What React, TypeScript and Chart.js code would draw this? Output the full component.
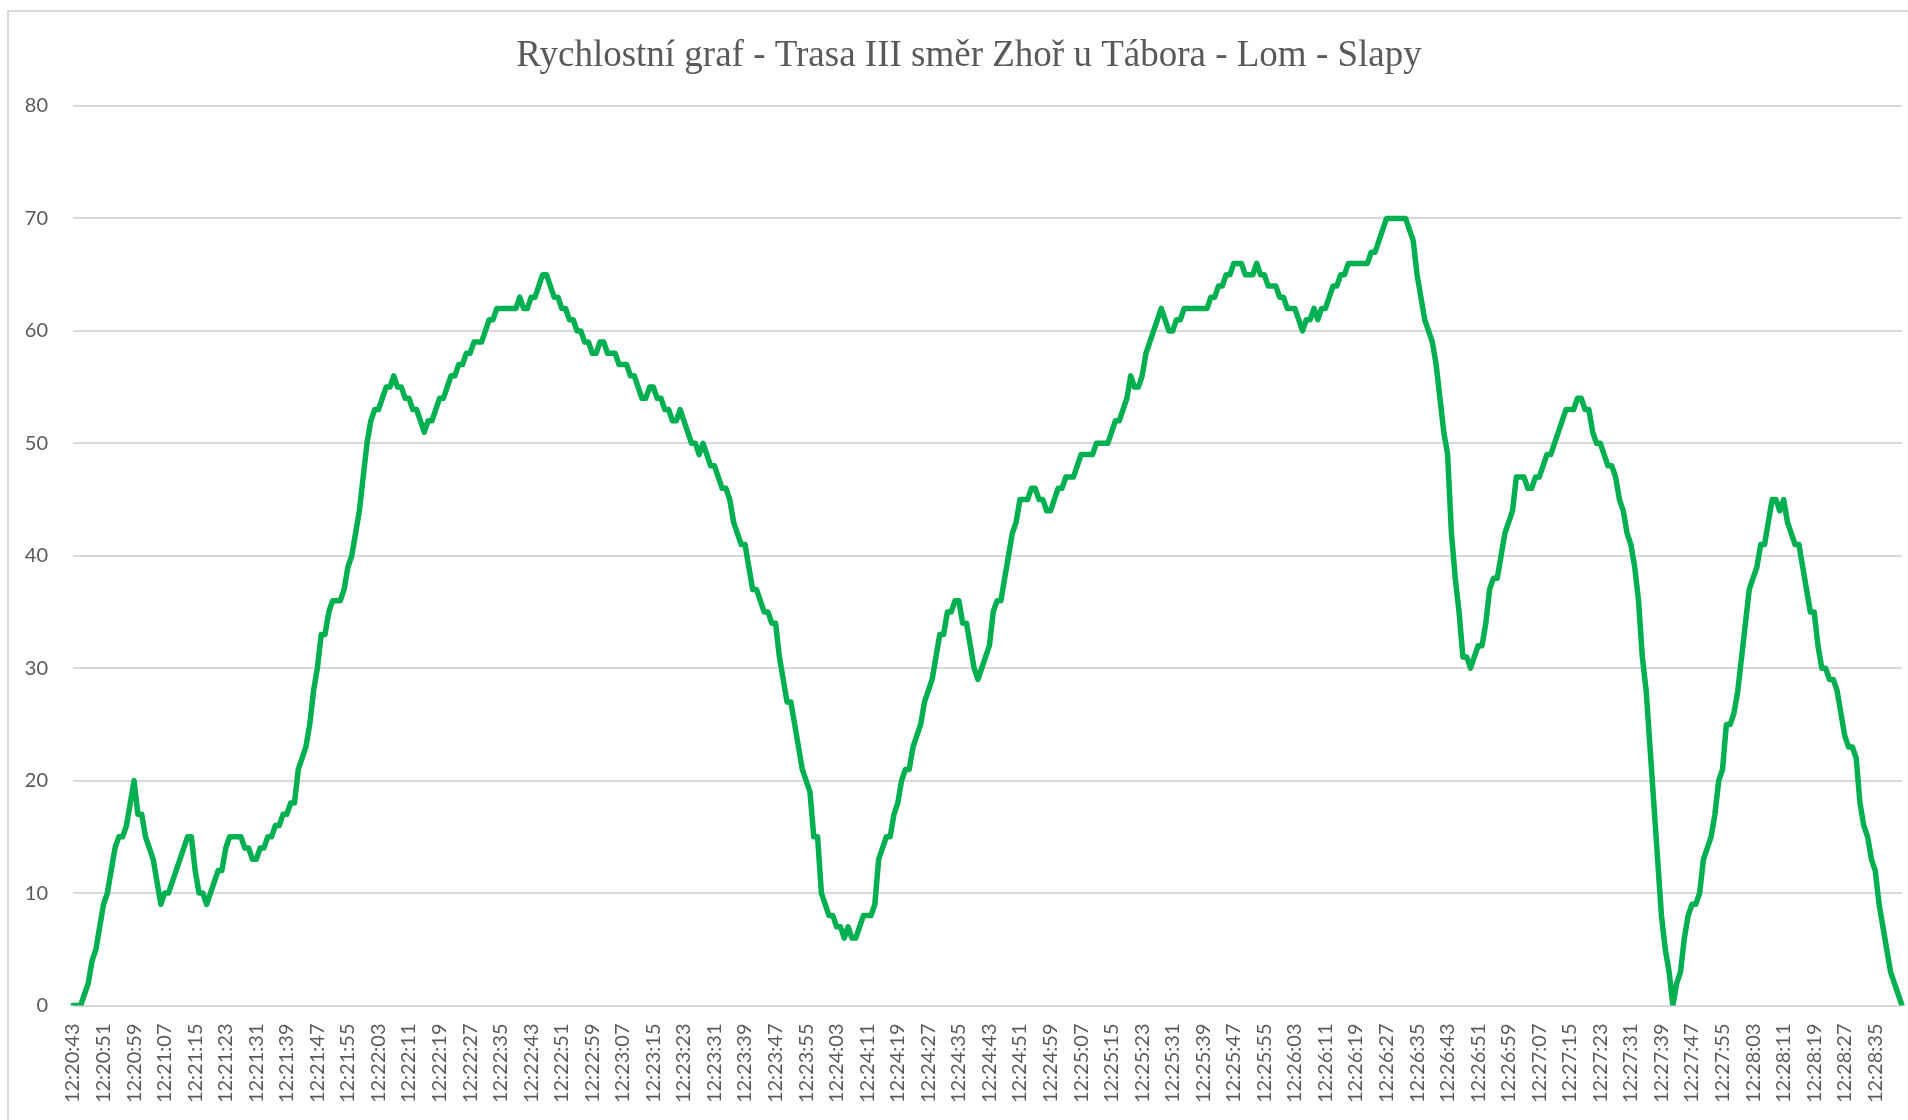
import React, { useEffect, useRef } from 'react';
import { Chart, registerables } from 'chart.js';

Chart.register(...registerables);

const TITLE = 'Rychlostní graf - Trasa III směr Zhoř u Tábora - Lom - Slapy';
const START_TIME = '12:20:43';
const LABEL_EVERY = 8;
const Y_MIN = 0;
const Y_MAX = 80;
const Y_STEP = 10;

// speed (km/h), one value per second starting at 12:20:43
const SPEEDS = [
  0, 0, 0, 1, 2, 4, 5, 7, 9, 10,
  12, 14, 15, 15, 16, 18, 20, 17, 17, 15,
  14, 13, 11, 9, 10, 10, 11, 12, 13, 14,
  15, 15, 12, 10, 10, 9, 10, 11, 12, 12,
  14, 15, 15, 15, 15, 14, 14, 13, 13, 14,
  14, 15, 15, 16, 16, 17, 17, 18, 18, 21,
  22, 23, 25, 28, 30, 33, 33, 35, 36, 36,
  36, 37, 39, 40, 42, 44, 47, 50, 52, 53,
  53, 54, 55, 55, 56, 55, 55, 54, 54, 53,
  53, 52, 51, 52, 52, 53, 54, 54, 55, 56,
  56, 57, 57, 58, 58, 59, 59, 59, 60, 61,
  61, 62, 62, 62, 62, 62, 62, 63, 62, 62,
  63, 63, 64, 65, 65, 64, 63, 63, 62, 62,
  61, 61, 60, 60, 59, 59, 58, 58, 59, 59,
  58, 58, 58, 57, 57, 57, 56, 56, 55, 54,
  54, 55, 55, 54, 54, 53, 53, 52, 52, 53,
  52, 51, 50, 50, 49, 50, 49, 48, 48, 47,
  46, 46, 45, 43, 42, 41, 41, 39, 37, 37,
  36, 35, 35, 34, 34, 31, 29, 27, 27, 25,
  23, 21, 20, 19, 15, 15, 10, 9, 8, 8,
  7, 7, 6, 7, 6, 6, 7, 8, 8, 8,
  9, 13, 14, 15, 15, 17, 18, 20, 21, 21,
  23, 24, 25, 27, 28, 29, 31, 33, 33, 35,
  35, 36, 36, 34, 34, 32, 30, 29, 30, 31,
  32, 35, 36, 36, 38, 40, 42, 43, 45, 45,
  45, 46, 46, 45, 45, 44, 44, 45, 46, 46,
  47, 47, 47, 48, 49, 49, 49, 49, 50, 50,
  50, 50, 51, 52, 52, 53, 54, 56, 55, 55,
  56, 58, 59, 60, 61, 62, 61, 60, 60, 61,
  61, 62, 62, 62, 62, 62, 62, 62, 63, 63,
  64, 64, 65, 65, 66, 66, 66, 65, 65, 65,
  66, 65, 65, 64, 64, 64, 63, 63, 62, 62,
  62, 61, 60, 61, 61, 62, 61, 62, 62, 63,
  64, 64, 65, 65, 66, 66, 66, 66, 66, 66,
  67, 67, 68, 69, 70, 70, 70, 70, 70, 70,
  69, 68, 65, 63, 61, 60, 59, 57, 54, 51,
  49, 42, 38, 35, 31, 31, 30, 31, 32, 32,
  34, 37, 38, 38, 40, 42, 43, 44, 47, 47,
  47, 46, 46, 47, 47, 48, 49, 49, 50, 51,
  52, 53, 53, 53, 54, 54, 53, 53, 51, 50,
  50, 49, 48, 48, 47, 45, 44, 42, 41, 39,
  36, 31, 28, 23, 18, 13, 8, 5, 3, 0,
  2, 3, 6, 8, 9, 9, 10, 13, 14, 15,
  17, 20, 21, 25, 25, 26, 28, 31, 34, 37,
  38, 39, 41, 41, 43, 45, 45, 44, 45, 43,
  42, 41, 41, 39, 37, 35, 35, 32, 30, 30,
  29, 29, 28, 26, 24, 23, 23, 22, 18, 16,
  15, 13, 12, 9, 7, 5, 3, 2, 1, 0,
];

function buildTimeLabels(start: string, n: number): string[] {
  const [h, m, s] = start.split(':').map(Number);
  const base = h * 3600 + m * 60 + s;
  const out: string[] = [];
  for (let k = 0; k < n; k++) {
    const t = base + k;
    const hh = Math.floor(t / 3600);
    const mm = Math.floor((t % 3600) / 60);
    const ss = t % 60;
    out.push(`${hh}:${String(mm).padStart(2, '0')}:${String(ss).padStart(2, '0')}`);
  }
  return out;
}

const TIME_LABELS = buildTimeLabels(START_TIME, SPEEDS.length);

const W = 1908;
const H = 1120;
const TEXT_COLOR = '#595959';
const GRID_COLOR = '#d9d9d9';
const LINE_COLOR = '#00b050';
const SANS = "Lato, 'Open Sans', 'Liberation Sans', sans-serif";
const SERIF = "'Liberation Serif', 'Times New Roman', serif";
const TITLE_X = 969;
const TITLE_Y = 56.5;

const titlePlugin = {
  id: 'offsetTitle',
  afterDraw(chart: any) {
    const ctx = chart.ctx;
    ctx.save();
    ctx.font = `normal 37px ${SERIF}`;
    ctx.fillStyle = TEXT_COLOR;
    ctx.textAlign = 'center';
    ctx.textBaseline = 'middle';
    ctx.fillText(TITLE, TITLE_X, TITLE_Y);
    ctx.restore();
  },
};

export default function App() {
  const ref = useRef<HTMLCanvasElement | null>(null);

  useEffect(() => {
    if (!ref.current) return;
    const chart = new Chart(ref.current, {
      type: 'line',
      data: {
        labels: TIME_LABELS,
        datasets: [
          {
            data: SPEEDS,
            borderColor: LINE_COLOR,
            backgroundColor: LINE_COLOR,
            borderWidth: 5.5,
            pointRadius: 0,
            pointHoverRadius: 0,
            tension: 0,
            fill: false,
            borderJoinStyle: 'round',
            borderCapStyle: 'round',
          },
        ],
      },
      plugins: [titlePlugin],
      options: {
        responsive: false,
        animation: false,
        events: [],
        layout: { padding: { left: 0, right: 6, top: 106, bottom: 0 } },
        plugins: {
          legend: { display: false },
          tooltip: { enabled: false },
          title: { display: false },
        },
        scales: {
          x: {
            type: 'category',
            offset: false,
            grid: { display: false, drawTicks: false },
            border: { display: false },
            ticks: {
              autoSkip: false,
              minRotation: 90,
              maxRotation: 90,
              padding: 18,
              color: TEXT_COLOR,
              font: { family: SANS, size: 20 },
              callback: (_v: any, i: number) => (i % LABEL_EVERY === 0 ? TIME_LABELS[i] : ''),
            },
            afterFit: (s: any) => {
              s.height = 114.5;
              s.paddingLeft = 0;
              s.paddingRight = 0;
            },
          },
          y: {
            min: Y_MIN,
            max: Y_MAX,
            grid: { color: GRID_COLOR, lineWidth: 2, drawTicks: false },
            border: { display: false },
            ticks: {
              stepSize: Y_STEP,
              padding: 25,
              color: TEXT_COLOR,
              font: { family: SANS, size: 20 },
            },
            afterFit: (s: any) => {
              s.width = 73;
            },
          },
        },
      },
    });
    return () => chart.destroy();
  }, []);

  return (
    <div style={{ position: 'absolute', left: 0, top: 0, width: W, height: H, background: '#fff', overflow: 'hidden' }}>
      <div
        style={{
          position: 'absolute',
          left: 7,
          top: 10,
          width: W,
          height: H,
          borderLeft: `2px solid ${GRID_COLOR}`,
          borderTop: `2px solid ${GRID_COLOR}`,
        }}
      />
      <canvas ref={ref} width={W} height={H} style={{ position: 'absolute', left: 0, top: 0, width: W, height: H }} />
    </div>
  );
}
